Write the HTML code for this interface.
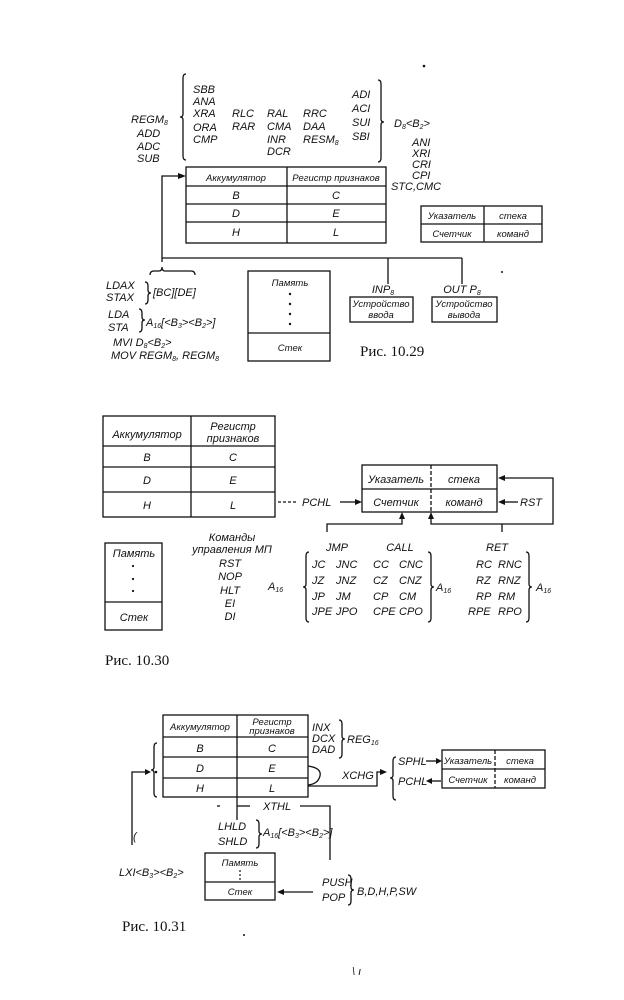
<!DOCTYPE html>
<html><head><meta charset="utf-8"><style>
html,body{margin:0;padding:0;background:#fff;}
svg{display:block;}
text{font-family:"Liberation Sans","DejaVu Sans",sans-serif;font-style:italic;font-size:11px;fill:#111;}
.c{text-anchor:middle;}
.s{font-size:9.5px;}
.cap{font-family:"Liberation Serif",serif;font-style:normal;font-size:15px;}
line,rect,path,polyline{stroke:#111;fill:none;stroke-width:1.3;}
.a{fill:#111;stroke:none;}
</style></head><body>
<svg width="624" height="1000" viewBox="0 0 624 1000" xmlns="http://www.w3.org/2000/svg">
<!-- ===== Fig 10.29 ===== -->
<circle class="a" cx="424" cy="66" r="1.3"/>
<text x="131" y="123">REGM<tspan font-size="7" dy="2">8</tspan></text>
<text x="137" y="137">ADD</text><text x="137" y="150">ADC</text><text x="137" y="162">SUB</text>
<path d="M186 74 Q183 74 183 78 L183 114 Q183 117 180 117 Q183 117 183 120 L183 156 Q183 160 186 160"/>
<text x="193" y="93">SBB</text><text x="193" y="105">ANA</text><text x="193" y="117">XRA</text><text x="193" y="131">ORA</text><text x="193" y="143">CMP</text>
<text x="232" y="117">RLC</text><text x="232" y="130">RAR</text>
<text x="267" y="117">RAL</text><text x="267" y="130">CMA</text><text x="267" y="143">INR</text><text x="267" y="155">DCR</text>
<text x="303" y="117">RRC</text><text x="303" y="130">DAA</text><text x="303" y="143">RESM<tspan font-size="7" dy="2">8</tspan></text>
<text x="352" y="98">ADI</text><text x="352" y="112">ACI</text><text x="352" y="126">SUI</text><text x="352" y="140">SBI</text>
<path d="M378 80 Q381 80 381 84 L381 119 Q381 122 384 122 Q381 122 381 125 L381 158 Q381 162 378 162"/>
<text x="394" y="127">D<tspan font-size="7" dy="2">8</tspan><tspan dy="-2">&lt;B<tspan font-size="7" dy="2">2</tspan><tspan dy="-2">&gt;</tspan></tspan></text>
<text x="412" y="146">ANI</text><text x="412" y="157">XRI</text><text x="412" y="168">CRI</text><text x="412" y="179">CPI</text>
<text x="391" y="190">STC,CMC</text>
<rect x="186" y="167" width="200" height="76"/>
<line x1="186" y1="186" x2="386" y2="186"/><line x1="186" y1="204" x2="386" y2="204"/><line x1="186" y1="222" x2="386" y2="222"/>
<line x1="287" y1="167" x2="287" y2="243"/>
<text class="c s" x="236" y="181">Аккумулятор</text><text class="c s" x="336" y="181">Регистр признаков</text>
<text class="c" x="236" y="199">B</text><text class="c" x="336" y="199">C</text>
<text class="c" x="236" y="217">D</text><text class="c" x="336" y="217">E</text>
<text class="c" x="236" y="236">H</text><text class="c" x="336" y="236">L</text>
<polyline points="162,262 162,176 180,176"/><path class="a" d="M186 176 L178 173 L178 179Z"/>
<line x1="162" y1="258" x2="462" y2="258"/>
<line x1="388" y1="258" x2="388" y2="284"/><line x1="462" y1="258" x2="462" y2="284"/>
<path d="M150 275 Q150 271 154 271 L159 271 Q162 271 162 267 Q162 271 165 271 L191 271 Q195 271 195 275"/>
<rect x="421" y="206" width="121" height="36"/><line x1="421" y1="224" x2="542" y2="224"/><line x1="484" y1="206" x2="484" y2="242"/>
<text class="c s" x="452" y="219">Указатель</text><text class="c s" x="513" y="219">стека</text>
<text class="c s" x="452" y="237">Счетчик</text><text class="c s" x="513" y="237">команд</text>
<text x="106" y="289">LDAX</text><text x="106" y="301">STAX</text>
<path d="M145 282 Q148 282 148 286 L148 290 Q148 293 151 293 Q148 293 148 296 L148 300 Q148 304 145 304"/>
<text x="153" y="296">[BC][DE]</text>
<text x="108" y="318">LDA</text><text x="108" y="331">STA</text>
<path d="M139 309 Q142 309 142 313 L142 317 Q142 320 145 320 Q142 320 142 323 L142 328 Q142 332 139 332"/>
<text x="146" y="326">A<tspan font-size="7" dy="2">16</tspan><tspan dy="-2">[&lt;B<tspan font-size="7" dy="2">3</tspan><tspan dy="-2">&gt;&lt;B</tspan><tspan font-size="7" dy="2">2</tspan><tspan dy="-2">&gt;]</tspan></tspan></text>
<text x="113" y="346">MVI  D<tspan font-size="7" dy="2">8</tspan><tspan dy="-2">&lt;B</tspan><tspan font-size="7" dy="2">2</tspan><tspan dy="-2">&gt;</tspan></text>
<text x="111" y="359">MOV  REGM<tspan font-size="7" dy="2">8</tspan><tspan dy="-2">, REGM</tspan><tspan font-size="7" dy="2">8</tspan></text>
<rect x="248" y="271" width="82" height="90"/><line x1="248" y1="333" x2="330" y2="333"/>
<text class="c s" x="290" y="286">Память</text>
<circle class="a" cx="290" cy="294" r="1.2"/><circle class="a" cx="290" cy="304" r="1.2"/><circle class="a" cx="290" cy="314" r="1.2"/><circle class="a" cx="290" cy="324" r="1.2"/>
<text class="c s" x="290" y="351">Стек</text>
<text class="c" x="383" y="293">INP<tspan font-size="7" dy="2">8</tspan></text>
<rect x="350" y="297" width="63" height="25"/>
<text class="c s" x="381" y="307">Устройство</text><text class="c s" x="381" y="318">ввода</text>
<text class="c" x="462" y="293">OUT P<tspan font-size="7" dy="2">8</tspan></text>
<rect x="432" y="297" width="65" height="25"/>
<text class="c s" x="464" y="307">Устройство</text><text class="c s" x="464" y="318">вывода</text>
<text class="cap" x="360" y="356">Рис. 10.29</text>
<circle class="a" cx="502" cy="272" r="1"/>

<!-- ===== Fig 10.30 ===== -->
<rect x="103" y="416" width="172" height="101"/>
<line x1="103" y1="446" x2="275" y2="446"/><line x1="103" y1="467" x2="275" y2="467"/><line x1="103" y1="492" x2="275" y2="492"/>
<line x1="191" y1="416" x2="191" y2="517"/>
<text class="c" x="147" y="438">Аккумулятор</text>
<text class="c" x="233" y="430">Регистр</text><text class="c" x="233" y="442">признаков</text>
<text class="c" x="147" y="461">B</text><text class="c" x="233" y="461">C</text>
<text class="c" x="147" y="484">D</text><text class="c" x="233" y="484">E</text>
<text class="c" x="147" y="509">H</text><text class="c" x="233" y="509">L</text>
<line x1="278" y1="502" x2="298" y2="502" stroke-dasharray="3,2"/>
<text x="302" y="506">PCHL</text>
<line x1="340" y1="502" x2="356" y2="502"/><path class="a" d="M362 502 L355 499 L355 505Z"/>
<rect x="362" y="465" width="135" height="47"/><line x1="362" y1="489" x2="497" y2="489"/><line x1="431" y1="465" x2="431" y2="512" stroke-dasharray="4,2"/>
<text class="c" x="396" y="483">Указатель</text><text class="c" x="464" y="483">стека</text>
<text class="c" x="396" y="506">Счетчик</text><text class="c" x="464" y="506">команд</text>
<line x1="518" y1="502" x2="504" y2="502"/><path class="a" d="M498 502 L505 499 L505 505Z"/>
<text x="520" y="506">RST</text>
<polyline points="431,518 431,524 553,524 553,478 504,478"/><path class="a" d="M498 478 L505 475 L505 481Z"/>
<path class="a" d="M431 512 L428 519 L434 519Z"/>
<polyline points="327,532 327,524 402,524 402,518"/><path class="a" d="M402 512 L399 519 L405 519Z"/>
<line x1="502" y1="524" x2="502" y2="532"/>
<text class="c" x="337" y="551">JMP</text><text class="c" x="400" y="551">CALL</text><text class="c" x="497" y="551">RET</text>
<text x="268" y="590" font-size="9">A<tspan font-size="7" dy="2">16</tspan></text>
<path d="M309 552 Q306 552 306 556 L306 584 Q306 587 303 587 Q306 587 306 590 L306 618 Q306 622 309 622"/>
<text x="312" y="568">JC</text><text x="336" y="568">JNC</text><text x="373" y="568">CC</text><text x="399" y="568">CNC</text>
<text x="312" y="584">JZ</text><text x="336" y="584">JNZ</text><text x="373" y="584">CZ</text><text x="399" y="584">CNZ</text>
<text x="312" y="600">JP</text><text x="336" y="600">JM</text><text x="373" y="600">CP</text><text x="399" y="600">CM</text>
<text x="312" y="615">JPE</text><text x="336" y="615">JPO</text><text x="373" y="615">CPE</text><text x="399" y="615">CPO</text>
<path d="M428 552 Q431 552 431 556 L431 584 Q431 587 434 587 Q431 587 431 590 L431 618 Q431 622 428 622"/>
<text x="436" y="591">A<tspan font-size="7" dy="2">16</tspan></text>
<text x="476" y="568">RC</text><text x="498" y="568">RNC</text>
<text x="476" y="584">RZ</text><text x="498" y="584">RNZ</text>
<text x="476" y="600">RP</text><text x="498" y="600">RM</text>
<text x="468" y="615">RPE</text><text x="498" y="615">RPO</text>
<path d="M526 552 Q529 552 529 556 L529 584 Q529 587 532 587 Q529 587 529 590 L529 618 Q529 622 526 622"/>
<text x="536" y="591">A<tspan font-size="7" dy="2">16</tspan></text>
<rect x="105" y="543" width="57" height="87"/><line x1="105" y1="602" x2="162" y2="602"/>
<text class="c" x="134" y="557">Память</text>
<circle class="a" cx="133" cy="566" r="1.1"/><circle class="a" cx="133" cy="579" r="1.1"/><circle class="a" cx="133" cy="591" r="1.1"/>
<text class="c" x="134" y="621">Стек</text>
<text class="c" x="232" y="541">Команды</text><text class="c" x="232" y="553">управления МП</text>
<text class="c" x="230" y="567">RST</text><text class="c" x="230" y="580">NOP</text><text class="c" x="230" y="594">HLT</text><text class="c" x="230" y="607">EI</text><text class="c" x="230" y="620">DI</text>
<text class="cap" x="105" y="665">Рис. 10.30</text>

<!-- ===== Fig 10.31 ===== -->
<rect x="163" y="715" width="145" height="82"/>
<line x1="163" y1="737" x2="308" y2="737"/><line x1="163" y1="757" x2="308" y2="757"/><line x1="163" y1="778" x2="308" y2="778"/>
<line x1="237" y1="715" x2="237" y2="820"/>
<text class="c s" x="200" y="730">Аккумулятор</text>
<text class="c s" x="272" y="725">Регистр</text><text class="c s" x="272" y="734">признаков</text>
<text class="c" x="200" y="752">B</text><text class="c" x="272" y="752">C</text>
<text class="c" x="200" y="772">D</text><text class="c" x="272" y="772">E</text>
<text class="c" x="200" y="792">H</text><text class="c" x="272" y="792">L</text>
<text x="312" y="731">INX</text><text x="312" y="742">DCX</text><text x="312" y="753">DAD</text>
<path d="M339 720 Q342 720 342 724 L342 736 Q342 739 345 739 Q342 739 342 742 L342 754 Q342 758 339 758"/>
<text x="347" y="743" font-size="10">REG<tspan font-size="7" dy="2">16</tspan></text>
<path d="M157 743 Q154 743 154 747 L154 767 Q154 770 151 770 Q154 770 154 773 L154 793 Q154 797 157 797"/>
<circle class="a" cx="156" cy="772" r="1.3"/>
<polyline points="132,845 132,772 146,772"/><path class="a" d="M151 772 L145 769 L145 775Z"/>
<path d="M308 766 Q322 768 320 776 Q318 784 308 785"/>
<polyline points="308,786 377,786 377,772 381,772"/><path class="a" d="M387 772 L380 769 L380 775Z"/>
<text x="342" y="779">XCHG</text>
<path d="M396 757 Q393 757 393 761 L393 775 Q393 778 390 778 Q393 778 393 781 L393 796 Q393 800 396 800"/>
<text x="398" y="765" font-size="9.5">SPHL</text><text x="398" y="785" font-size="9.5">PCHL</text>
<line x1="426" y1="761" x2="437" y2="761"/><path class="a" d="M442 761 L436 758 L436 764Z"/>
<line x1="441" y1="781" x2="432" y2="781"/><path class="a" d="M426 781 L432 778 L432 784Z"/>
<rect x="442" y="750" width="103" height="38"/><line x1="442" y1="769" x2="545" y2="769"/><line x1="495" y1="750" x2="495" y2="788" stroke-dasharray="4,2"/>
<text class="c s" x="468" y="764">Указатель</text><text class="c s" x="520" y="764">стека</text>
<text class="c s" x="468" y="783">Счетчик</text><text class="c s" x="520" y="783">команд</text>
<line x1="237" y1="806" x2="250" y2="806"/>
<text x="263" y="810">XTHL</text>
<polyline points="300,806 330,806 330,860"/>
<line x1="217" y1="806" x2="220" y2="806"/>
<text x="218" y="830">LHLD</text><text x="218" y="845">SHLD</text>
<path d="M256 820 Q259 820 259 824 L259 831 Q259 834 262 834 Q259 834 259 837 L259 844 Q259 848 256 848"/>
<text x="263" y="836" font-size="10">A<tspan font-size="7" dy="2">16</tspan><tspan dy="-2">[&lt;B</tspan><tspan font-size="7" dy="2">3</tspan><tspan dy="-2">&gt;&lt;B</tspan><tspan font-size="7" dy="2">2</tspan><tspan dy="-2">&gt;]</tspan></text>
<text x="133" y="840" font-style="normal">(</text>
<text x="119" y="876" font-size="10">LXI&lt;B<tspan font-size="7" dy="2">3</tspan><tspan dy="-2">&gt;&lt;B</tspan><tspan font-size="7" dy="2">2</tspan><tspan dy="-2">&gt;</tspan></text>
<rect x="205" y="853" width="70" height="47"/><line x1="205" y1="882" x2="275" y2="882"/>
<text class="c s" x="240" y="866">Память</text>
<circle class="a" cx="240" cy="871" r="0.9"/><circle class="a" cx="240" cy="875" r="0.9"/><circle class="a" cx="240" cy="879" r="0.9"/>
<text class="c s" x="240" y="895">Стек</text>
<line x1="313" y1="892" x2="283" y2="892"/><path class="a" d="M277 892 L284 889 L284 895Z"/>
<text x="322" y="886">PUSH</text><text x="322" y="901">POP</text>
<path d="M348 875 Q351 875 351 879 L351 887 Q351 890 354 890 Q351 890 351 893 L351 901 Q351 905 348 905"/>
<text x="357" y="895">B,D,H,P,SW</text>
<text class="cap" x="122" y="931">Рис. 10.31</text>
<circle class="a" cx="244" cy="935" r="1"/>
<text x="352" y="975" font-style="normal" font-size="10">\   ı</text>
</svg>
</body></html>
